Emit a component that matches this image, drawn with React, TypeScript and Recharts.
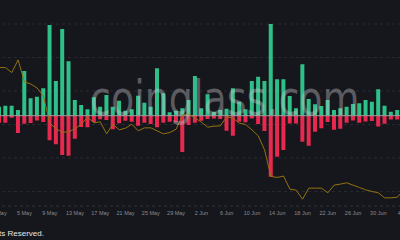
import { ComposedChart, Bar, Line, XAxis, YAxis, CartesianGrid, ReferenceLine } from "recharts";

const dates = [
  "1 May", "2 May", "3 May", "4 May", "5 May", "6 May", "7 May", "8 May", "9 May", "10 May",
  "11 May", "12 May", "13 May", "14 May", "15 May", "16 May", "17 May", "18 May", "19 May", "20 May",
  "21 May", "22 May", "23 May", "24 May", "25 May", "26 May", "27 May", "28 May", "29 May", "30 May",
  "31 May", "1 Jun", "2 Jun", "3 Jun", "4 Jun", "5 Jun", "6 Jun", "7 Jun", "8 Jun", "9 Jun",
  "10 Jun", "11 Jun", "12 Jun", "13 Jun", "14 Jun", "15 Jun", "16 Jun", "17 Jun", "18 Jun", "19 Jun",
  "20 Jun", "21 Jun", "22 Jun", "23 Jun", "24 Jun", "25 Jun", "26 Jun", "27 Jun", "28 Jun", "29 Jun",
  "30 Jun", "1 Jul", "2 Jul", "3 Jul", "4 Jul",
];

// inflow (green, up)
const inflow = [
  9, 10, 10, 5.7, 44.7, 17.4, 19, 27.4, 90.7, 34.7,
  86.7, 54.4, 15.7, 10.7, 6.4, 18.4, 9, 20.7, 9, 15,
  5, 6.4, 20, 13, 9, 47.4, 22.4, 3.4, 5, 7.4,
  15.7, 39.7, 7.4, 21.4, 4, 5.7, 7, 27.4, 14, 6.4,
  34.7, 39, 34.7, 91.7, 36.4, 36.4, 19.7, 7.4, 51.4, 16.7,
  11.4, 9.7, 15.7, 5.7, 7.4, 9, 11.7, 12.4, 15.7, 14,
  26.4, 10, 4, 5.7, null,
];

// outflow (red, down)
const outflow = [
  7, 7, 2, 17.3, 8, 7.3, 4.7, 6.3, 24.6, 28.5,
  39.3, 40, 23, 11.3, 11.6, 6.3, 3.6, 4.3, 13.6, 7.6,
  5, 6, 10, 7, 8.3, 11.6, 7, 6, 6.6, 36.3,
  9.3, 7, 5, 3.3, 2.7, 3.3, 15, 20, 6, 6.6,
  2.7, 8.3, 15.3, 61, 41, 34.3, 7.7, 7.7, 26, 30,
  16, 12.6, 6.3, 14, 13, 7, 4.7, 7, 5.7, 5.3,
  10.7, 8, 3.8, 3.8, null,
];

const price = [
  0.870, 0.870, 0.855, 0.893, 0.827, 0.821, 0.809, 0.785, 0.704, 0.687,
  0.677, 0.678, 0.687, 0.701, 0.722, 0.705, 0.708, 0.672, 0.701, 0.684,
  0.689, 0.701, 0.681, 0.690, 0.690, 0.681, 0.672, 0.676, 0.686, 0.728,
  0.731, 0.719, 0.707, 0.692, 0.695, 0.696, 0.723, 0.719, 0.704, 0.700,
  0.684, 0.666, 0.624, 0.545, 0.542, 0.546, 0.507, 0.504, 0.477, 0.510,
  0.510, 0.510, 0.496, 0.519, 0.522, 0.526, 0.519, 0.512, 0.505, 0.500,
  0.496, 0.481, 0.481, 0.483, 0.504,
];

const priceTicks = [0.5, 0.6, 0.7, 0.8, 0.9, 1.0];

const data = dates.map((date, i) => ({
  date,
  inflow: inflow[i],
  outflow: outflow[i] == null ? null : -outflow[i],
  price: price[i],
}));

export default function App() {
  return (
    <div
      style={{
        position: "fixed",
        left: 0,
        top: 0,
        width: 400,
        height: 240,
        overflow: "hidden",
        background: "#16171c",
        fontFamily: '"Liberation Sans", Arial, sans-serif',
      }}
    >
      <div style={{ position: "absolute", left: -4.46, top: 0 }}>
        <ComposedChart
          width={410.8}
          height={240}
          data={data}
          stackOffset="sign"
          margin={{ top: 24, right: 0, bottom: 14, left: 0 }}
        >
          <CartesianGrid yAxisId="price" vertical={false} stroke="#2a2b31" strokeDasharray="3 3" />
          <XAxis
            dataKey="date"
            interval={3}
            height={20}
            tickLine={false}
            tickSize={3}
            tickMargin={2}
            axisLine={{ stroke: "#2a2b31", strokeDasharray: "3 3" }}
            tick={{ fill: "#8a8b90", fontSize: 5.5 }}
          />
          <YAxis yAxisId="flow" hide domain={[-90.3, 91.7]} allowDataOverflow />
          <YAxis yAxisId="price" hide orientation="right" domain={[0.4567, 1]} ticks={priceTicks} allowDataOverflow />
          <Bar yAxisId="flow" dataKey="inflow" stackId="f" fill="#2fbf88" barSize={4} isAnimationActive={false} />
          <Bar yAxisId="flow" dataKey="outflow" stackId="f" fill="#e8294f" barSize={4} isAnimationActive={false} />
          <ReferenceLine yAxisId="flow" y={0} stroke="#a39ea2" />
          <Line
            yAxisId="price"
            dataKey="price"
            type="linear"
            stroke="#94720f"
            strokeWidth={1}
            dot={false}
            isAnimationActive={false}
          />
        </ComposedChart>
      </div>
      <div
        style={{
          position: "absolute",
          left: 90,
          top: 75,
          fontFamily: '"DejaVu Sans", sans-serif',
          fontSize: 38,
          lineHeight: "38px",
          color: "rgba(205,205,210,0.38)",
          transform: "scaleY(1.25)",
          transformOrigin: "0 0",
          whiteSpace: "nowrap",
          pointerEvents: "none",
        }}
      >
        coinglass.com
      </div>
      <div
        style={{
          position: "absolute",
          right: 356,
          top: 229,
          fontSize: 8,
          lineHeight: "10px",
          fontWeight: 500,
          color: "#e6e6e6",
          whiteSpace: "nowrap",
        }}
      >
        All Rights Reserved.
      </div>
    </div>
  );
}
